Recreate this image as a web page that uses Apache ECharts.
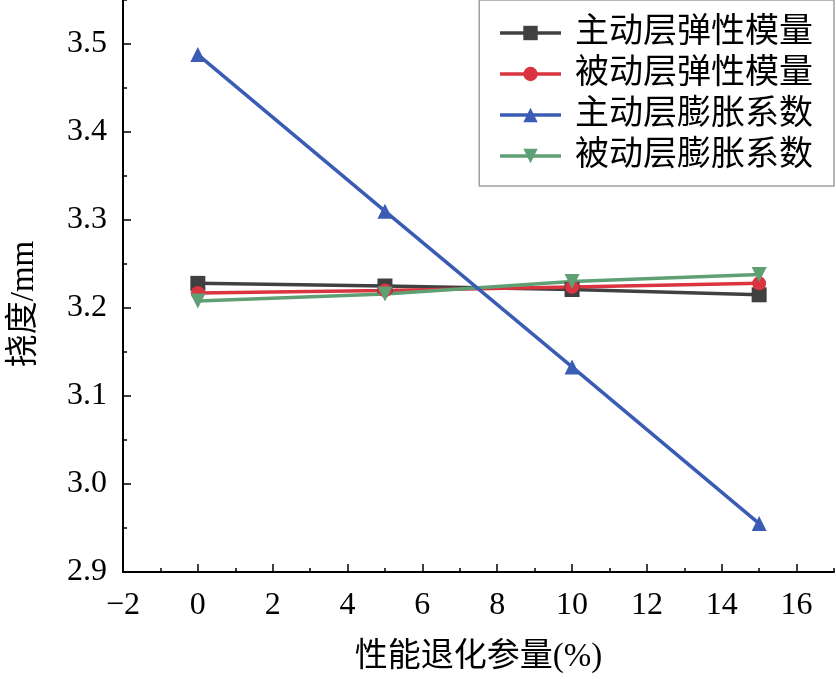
<!DOCTYPE html>
<html>
<head>
<meta charset="utf-8">
<script src="https://cdn.jsdelivr.net/npm/echarts@6/dist/echarts.min.js"></script>
<style>html,body{margin:0;padding:0;background:#fff;}#c{width:836px;height:679px;}</style>
</head>
<body>
<div id="c"></div>
<script>
const xValues = [0, 5, 10, 15];
const seriesNames = ['主动层弹性模量', '被动层弹性模量', '主动层膨胀系数', '被动层膨胀系数'];
const activeModulus = [3.228, 3.225, 3.221, 3.215];
const passiveModulus = [3.217, 3.220, 3.224, 3.228];
const activeExpansion = [3.488, 3.310, 3.133, 2.955];
const passiveExpansion = [3.208, 3.216, 3.230, 3.238];
const xTicks = [-2, 0, 2, 4, 6, 8, 10, 12, 14, 16];
const yTicks = [2.9, 3.0, 3.1, 3.2, 3.3, 3.4, 3.5];
const xTitle = '性能退化参量(%)';
const yTitle = '挠度/mm';

const FONT = '"Liberation Serif", "Noto Sans CJK SC", serif';
const colors = ['#404040', '#d9343f', '#3a5cb4', '#5f9f74'];
const symbols = ['rect', 'circle', 'triangle', 'triangle'];
const rotates = [0, 0, 0, 180];
const dataSets = [activeModulus, passiveModulus, activeExpansion, passiveExpansion];

const chart = echarts.init(document.getElementById('c'));
const axisLine = {show: true, onZero: false, lineStyle: {color: '#000', width: 2}};
chart.setOption({
  animation: false,
  grid: {left: 121, right: 2, top: 0, bottom: 102, containLabel: false},
  legend: {
    orient: 'vertical', right: 2, top: 0,
    borderColor: '#a0a0a0', borderWidth: 1.5,
    padding: [16, 21, 13, 19],
    itemGap: 7, itemWidth: 61, itemHeight: 18,
    lineStyle: {width: 3.5},
    textStyle: {fontFamily: FONT, fontSize: 34, color: '#000', lineHeight: 34, padding: [0, 0, 0, 9]},
    data: seriesNames
  },
  xAxis: [{
    type: 'value', min: -2, max: 17, interval: 2,
    axisLine: axisLine,
    axisTick: {show: true, inside: true, length: 8, lineStyle: {color: '#000', width: 1.5}, customValues: xTicks},
    axisLabel: {fontFamily: FONT, fontSize: 32, color: '#000', margin: 18, customValues: xTicks,
      formatter: v => String(v).replace('-', '\u2212')},
    splitLine: {show: false},
    name: xTitle, nameLocation: 'middle', nameGap: 69,
    nameTextStyle: {fontFamily: FONT, fontSize: 33, color: '#000'}
  }, {
    type: 'value', min: -2, max: 17, interval: 1, position: 'bottom',
    axisLine: {show: false, onZero: false},
    axisTick: {show: true, inside: true, length: 4, lineStyle: {color: '#000', width: 1.5}},
    axisLabel: {show: false}, splitLine: {show: false}
  }],
  yAxis: [{
    type: 'value', min: 2.9, max: 3.55, interval: 0.1,
    axisLine: axisLine,
    axisTick: {show: true, inside: true, length: 8, lineStyle: {color: '#000', width: 1.5}, customValues: yTicks},
    axisLabel: {fontFamily: FONT, fontSize: 32, color: '#000', margin: 16, customValues: yTicks,
      formatter: v => v.toFixed(1)},
    splitLine: {show: false},
    name: yTitle, nameLocation: 'middle', nameGap: 82, nameRotate: 90,
    nameTextStyle: {fontFamily: FONT, fontSize: 33, color: '#000', padding: [0, 36, 0, 0]}
  }, {
    type: 'value', min: 2.9, max: 3.55, interval: 0.05, position: 'left',
    axisLine: {show: false, onZero: false},
    axisTick: {show: true, inside: true, length: 4, lineStyle: {color: '#000', width: 1.5}},
    axisLabel: {show: false}, splitLine: {show: false}
  }],
  series: seriesNames.map((name, i) => ({
    name: name, type: 'line',
    xAxisIndex: 0, yAxisIndex: 0,
    data: xValues.map((x, j) => [x, dataSets[i][j]]),
    symbol: symbols[i], symbolRotate: rotates[i], symbolSize: i === 1 ? 14 : 15,
    lineStyle: {color: colors[i], width: 3.5},
    itemStyle: {color: colors[i]},
    z: i === 2 ? 3 : 2
  }))
});
</script>
</body>
</html>
